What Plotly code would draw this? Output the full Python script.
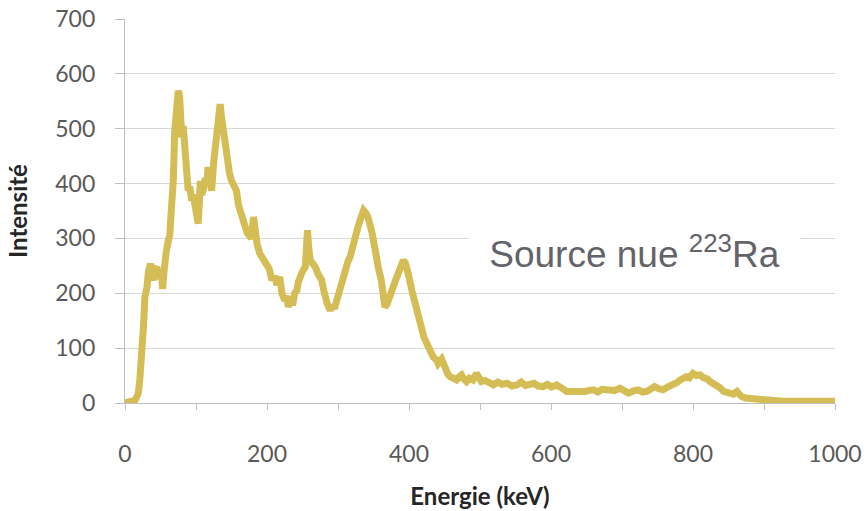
import plotly.graph_objects as go

energies = [0, 5, 10, 14, 17, 19, 21, 23, 25, 26, 28, 30, 31, 33, 36, 38, 40, 43, 45, 47,
            49, 51, 53, 55, 56, 58, 61, 63, 64, 66, 68, 70, 72, 74, 75, 76, 77, 78, 80, 82,
            85, 87, 89, 91, 94, 96, 99, 101, 103, 105, 106, 108, 110, 113, 115, 117, 120, 122, 125, 127,
            130, 133, 134, 136, 138, 141, 143, 147, 150, 153, 157, 160, 164, 167, 169, 172, 175, 178, 181, 183,
            186, 190, 194, 197, 200, 203, 207, 211, 214, 218, 221, 225, 228, 230, 233, 236, 239, 242, 244, 246,
            250, 254, 256, 257, 259, 261, 264, 268, 272, 277, 280, 282, 285, 289, 292, 295, 298, 302, 307, 310,
            314, 317, 320, 324, 328, 331, 334, 336, 338, 340, 343, 345, 348, 350, 352, 354, 357, 361, 363, 366,
            369, 372, 376, 380, 385, 388, 392, 395, 397, 400, 404, 407, 411, 414, 418, 421, 425, 428, 430, 434,
            439, 441, 446, 451, 455, 458, 462, 467, 471, 474, 477, 481, 485, 490, 495, 499, 502, 507, 512, 519,
            525, 531, 538, 545, 552, 558, 564, 570, 576, 582, 589, 595, 601, 608, 613, 618, 622, 627, 633, 641,
            648, 654, 660, 666, 672, 678, 684, 690, 697, 703, 709, 716, 723, 729, 735, 741, 746, 752, 758, 764,
            772, 777, 782, 787, 791, 795, 800, 805, 810, 815, 820, 824, 828, 833, 838, 843, 848, 852, 857, 862,
            865, 868, 874, 880, 888, 899, 910, 927, 945, 960, 980, 1000]

intensities = [0, 1, 2, 5, 12, 20, 45, 72, 110, 139, 193, 205, 211, 240, 254, 232, 224, 245, 248, 228,
               230, 245, 208, 240, 260, 275, 296, 305, 327, 360, 405, 496, 520, 555, 569, 565, 557, 520, 484, 505,
               460, 420, 387, 395, 369, 380, 357, 340, 327, 370, 405, 380, 387, 410, 395, 430, 400, 387, 440, 466,
               510, 539, 545, 521, 500, 460, 440, 420, 405, 395, 387, 360, 339, 330, 321, 310, 305, 300, 339, 309,
               290, 272, 265, 258, 254, 245, 224, 232, 215, 230, 200, 187, 195, 175, 190, 178, 200, 205, 220, 230,
               240, 248, 290, 315, 280, 260, 255, 248, 235, 224, 205, 193, 180, 169, 178, 172, 187, 205, 230, 245,
               258, 266, 285, 303, 320, 333, 345, 351, 348, 345, 335, 327, 310, 296, 280, 260, 245, 224, 200, 175,
               180, 195, 205, 220, 236, 245, 260, 255, 248, 230, 205, 190, 169, 150, 133, 120, 109, 100, 100, 84,
               78, 72, 80, 60, 52, 48, 45, 42, 48, 51, 44, 39, 45, 42, 54, 44, 39, 41, 36, 33,
               38, 34, 36, 31, 33, 38, 32, 33, 36, 31, 30, 34, 29, 33, 30, 25, 21, 21, 19, 18,
               21, 23, 24, 20, 25, 24, 22, 23, 27, 22, 18, 22, 24, 20, 21, 26, 30, 26, 24, 29,
               33, 37, 42, 45, 48, 46, 54, 50, 51, 46, 44, 39, 36, 33, 28, 21, 19, 18, 16, 21,
               15, 12, 9, 8, 7, 5, 4, 3, 3, 3, 2, 3]

x_title = "Energie (keV)"
y_title = "Intensité"
label_text = "Source nue <sup>223</sup>Ra"

fig = go.Figure()
fig.add_trace(go.Scatter(
    x=energies, y=intensities, mode="lines",
    line=dict(color="#d5bd55", width=7),
    showlegend=False, hoverinfo="skip",
))

fig.add_annotation(
    x=718, y=276, xref="x", yref="y",
    text=label_text, showarrow=False,
    font=dict(family="Liberation Sans, Arial", size=37, color="#636369"),
    bgcolor="white", width=325, height=56, borderpad=3,
    xanchor="center", yanchor="middle",
)

tick_font = dict(family="Lato", size=23, color="#595959")
title_font = dict(family="Lato", size=24, color="#262626", weight="bold")

fig.update_layout(
    width=864, height=511,
    margin=dict(l=125, r=29, t=19, b=108, autoexpand=False),
    paper_bgcolor="white", plot_bgcolor="white",
    xaxis=dict(
        range=[0, 1000], dtick=200, tick0=0, automargin=False,
        showgrid=False, zeroline=False,
        showline=True, linecolor="#bfbfbf", linewidth=1.3,
        ticks="outside", ticklen=6, tickcolor="#bfbfbf", tickwidth=1.3,
        minor=dict(dtick=100, ticks="outside", ticklen=6, tickcolor="#bfbfbf", tickwidth=1.3, showgrid=False),
        tickfont=tick_font, ticklabelstandoff=24,
        title=dict(text=x_title, font=title_font, standoff=22),
    ),
    yaxis=dict(
        range=[0, 700], dtick=100, tick0=0, automargin=False,
        showgrid=True, gridcolor="#d9d9d9", gridwidth=1.3,
        zeroline=False,
        showline=True, linecolor="#bfbfbf", linewidth=1.3,
        ticks="outside", ticklen=9, tickcolor="#bfbfbf", tickwidth=1.3,
        tickfont=tick_font, ticklabelstandoff=15,
        title=dict(text=y_title, font=title_font, standoff=20),
    ),
)

fig.write_html("out.html", config={"displayModeBar": False},
               post_script="document.body.style.margin='0';document.body.style.overflow='hidden';")
